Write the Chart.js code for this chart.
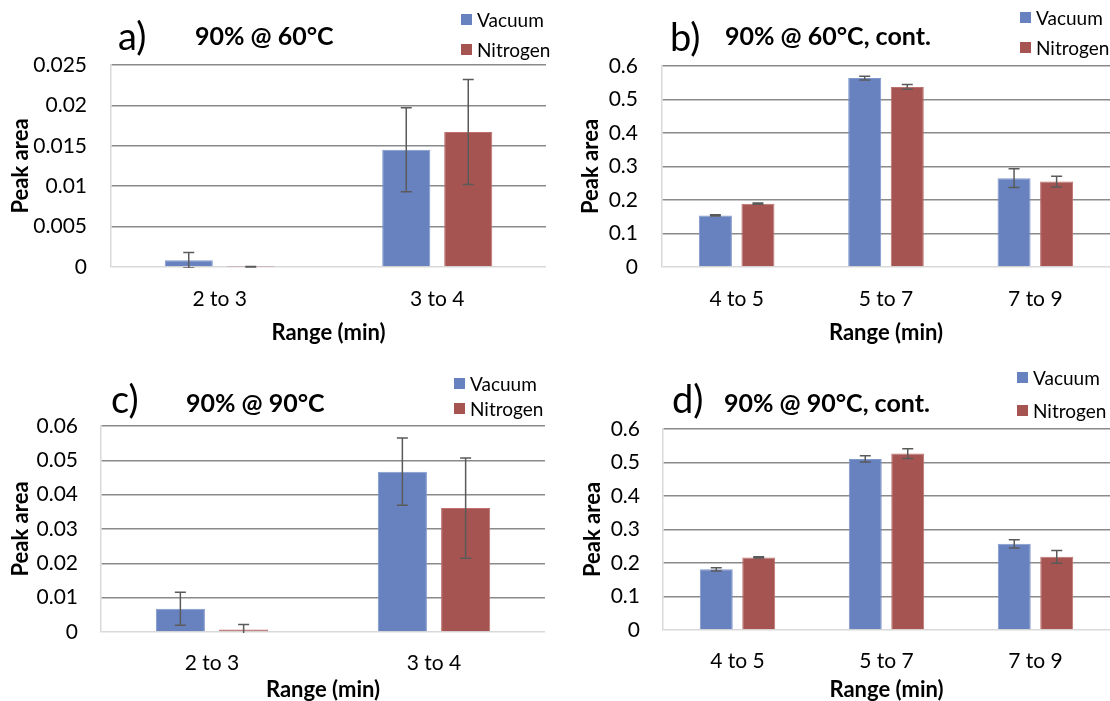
<!DOCTYPE html>
<html>
<head>
<meta charset="utf-8">
<script src="https://cdn.jsdelivr.net/npm/chart.js@4.4.1/dist/chart.umd.min.js"></script>
<style>
  body { margin: 0; background: #fff; width: 1110px; height: 701px; position: relative; overflow: hidden; }
  canvas { position: absolute; }
</style>
</head>
<body>
<canvas id="panelA" width="555" height="350" style="left:0;top:0"></canvas>
<canvas id="panelB" width="555" height="350" style="left:555px;top:0"></canvas>
<canvas id="panelC" width="555" height="351" style="left:0;top:350px"></canvas>
<canvas id="panelD" width="555" height="351" style="left:555px;top:350px"></canvas>
<script>
// categories
const rangesEarly = ['2 to 3', '3 to 4']
const rangesLate = ['4 to 5', '5 to 7', '7 to 9']

// a) 90% @ 60°C
const vacuum60 = [0.00083, 0.0145]
const vacuum60Err = [0.00095, 0.0052]
const nitrogen60 = [0.00004, 0.0167]
const nitrogen60Err = [0.00003, 0.0065]

// b) 90% @ 60°C, cont.
const vacuum60Cont = [0.154, 0.564, 0.265]
const vacuum60ContErr = [0.002, 0.0055, 0.028]
const nitrogen60Cont = [0.189, 0.5375, 0.255]
const nitrogen60ContErr = [0.002, 0.007, 0.016]

// c) 90% @ 90°C
const vacuum90 = [0.0068, 0.0467]
const vacuum90Err = [0.0048, 0.0098]
const nitrogen90 = [0.0007, 0.0361]
const nitrogen90Err = [0.0015, 0.0146]

// d) 90% @ 90°C, cont.
const vacuum90Cont = [0.181, 0.5106, 0.2573]
const vacuum90ContErr = [0.005, 0.0094, 0.0124]
const nitrogen90Cont = [0.2166, 0.5265, 0.2185]
const nitrogen90ContErr = [0.002, 0.0144, 0.0189]

// tick labels
const ticks60 = ['0', '0.005', '0.01', '0.015', '0.02', '0.025']
const ticks90 = ['0', '0.01', '0.02', '0.03', '0.04', '0.05', '0.06']
const ticksCont = ['0', '0.1', '0.2', '0.3', '0.4', '0.5', '0.6']

const FONT = 'Lato, "Open Sans", sans-serif'
const BLUE = '#6782bf'
const RED = '#a65451'

// whiskers from the dataset's errors array, clipped to the plot area
const errorBars = {
  id: 'errorBars',
  afterDatasetsDraw(chart) {
    const { ctx, chartArea, scales: { y } } = chart
    ctx.save()
    ctx.beginPath()
    ctx.rect(chartArea.left, chartArea.top, chartArea.width, chartArea.height + 1)
    ctx.clip()
    ctx.strokeStyle = '#5a5a5a'
    ctx.lineWidth = 1.5
    chart.data.datasets.forEach((ds, di) => {
      chart.getDatasetMeta(di).data.forEach((bar, i) => {
        const v = ds.data[i], e = ds.errors[i]
        const top = y.getPixelForValue(v + e)
        const bot = y.getPixelForValue(v - e)
        ctx.beginPath()
        ctx.moveTo(bar.x, top); ctx.lineTo(bar.x, bot)
        ctx.moveTo(bar.x - 5.5, top); ctx.lineTo(bar.x + 5.5, top)
        ctx.moveTo(bar.x - 5.5, bot); ctx.lineTo(bar.x + 5.5, bot)
        ctx.stroke()
      })
    })
    ctx.restore()
  }
}

// panel letter, bold title and the two-row legend in the top right
const header = {
  id: 'header',
  afterDraw(chart) {
    const h = chart.options.plugins.header
    const ctx = chart.ctx
    ctx.save()
    ctx.fillStyle = '#000'
    ctx.textBaseline = 'alphabetic'
    ctx.font = `38px ${FONT}`
    ctx.fillText(h.letter, h.letterX, h.letterY)
    ctx.font = `bold 25px ${FONT}`
    ctx.fillText(h.title, h.titleX, h.titleY)
    ctx.font = `19px ${FONT}`
    ctx.textBaseline = 'middle'
    chart.data.datasets.forEach((ds, i) => {
      ctx.fillStyle = ds.backgroundColor
      ctx.fillRect(h.legendX, h.legendY[i], 11, 11)
      ctx.fillStyle = '#000'
      ctx.fillText(ds.label, h.legendX + 16, h.legendY[i] + 6.5)
    })
    ctx.restore()
  }
}

function makePanel(id, p) {
  return new Chart(document.getElementById(id), {
    type: 'bar',
    data: {
      labels: p.labels,
      datasets: [
        { label: 'Vacuum', data: p.vacuum, errors: p.vacuumErr, backgroundColor: BLUE, borderColor: '#8198cc', borderWidth: 1 },
        { label: 'Nitrogen', data: p.nitrogen, errors: p.nitrogenErr, backgroundColor: RED, borderColor: '#bd716e', borderWidth: 1 }
      ]
    },
    options: {
      responsive: false,
      animation: false,
      layout: { padding: { left: 0, right: p.right, top: p.top, bottom: 0 } },
      datasets: { bar: { categoryPercentage: 0.57, barPercentage: 0.776 } },
      scales: {
        x: {
          grid: { display: false },
          border: { display: false },
          ticks: { color: '#000', font: { family: FONT, size: 21 }, padding: p.xTickPad },
          title: { display: true, text: 'Range (min)', color: '#000', font: { family: FONT, size: 22, weight: 'bold' }, padding: { top: 0, bottom: p.xTitlePad } },
          afterFit: s => { s.height = p.xHeight }
        },
        y: {
          min: 0,
          max: p.max,
          ticks: { stepSize: p.step, color: '#000', font: { family: FONT, size: 21 }, padding: p.yTickPad, callback: (v, i) => p.ticks[i] },
          grid: { color: c => c.tick && c.tick.value === 0 ? '#d9d9d9' : '#8a8a8a', lineWidth: 1.5, drawTicks: false },
          border: { color: '#d9d9d9', width: 1.5 },
          title: { display: true, text: 'Peak area', color: '#000', font: { family: FONT, size: 22, weight: 'bold' }, padding: { top: p.yTitlePad, bottom: 0 } },
          afterFit: s => { s.width = p.yWidth }
        }
      },
      plugins: { legend: { display: false }, tooltip: { enabled: false }, header: p.header }
    },
    plugins: [errorBars, header]
  })
}

makePanel('panelA', {
  labels: rangesEarly, vacuum: vacuum60, vacuumErr: vacuum60Err, nitrogen: nitrogen60, nitrogenErr: nitrogen60Err,
  max: 0.025, step: 0.005, ticks: ticks60,
  top: 65, right: 9, yWidth: 111, xHeight: 83,
  yTickPad: 24, yTitlePad: 8, xTickPad: 12, xTitlePad: 4,
  header: { letter: 'a)', letterX: 118, letterY: 50, title: '90% @ 60°C', titleX: 195, titleY: 45, legendX: 461, legendY: [14, 44] }
})

makePanel('panelB', {
  labels: rangesLate, vacuum: vacuum60Cont, vacuumErr: vacuum60ContErr, nitrogen: nitrogen60Cont, nitrogenErr: nitrogen60ContErr,
  max: 0.6, step: 0.1, ticks: ticksCont,
  top: 66, right: 0, yWidth: 107, xHeight: 83,
  yTickPad: 24, yTitlePad: 23, xTickPad: 12, xTitlePad: 4,
  header: { letter: 'b)', letterX: 115, letterY: 51, title: '90% @ 60°C, cont.', titleX: 170, titleY: 45, legendX: 465, legendY: [12, 42] }
})

makePanel('panelC', {
  labels: rangesEarly, vacuum: vacuum90, vacuumErr: vacuum90Err, nitrogen: nitrogen90, nitrogenErr: nitrogen90Err,
  max: 0.06, step: 0.01, ticks: ticks90,
  top: 76, right: 10, yWidth: 101, xHeight: 69,
  yTickPad: 23, yTitlePad: 8, xTickPad: 11, xTitlePad: -2,
  header: { letter: 'c)', letterX: 111, letterY: 63, title: '90% @ 90°C', titleX: 186, titleY: 62, legendX: 454, legendY: [28, 53] }
})

makePanel('panelD', {
  labels: rangesLate, vacuum: vacuum90Cont, vacuumErr: vacuum90ContErr, nitrogen: nitrogen90Cont, nitrogenErr: nitrogen90ContErr,
  max: 0.6, step: 0.1, ticks: ticksCont,
  top: 79, right: 0, yWidth: 108, xHeight: 71,
  yTickPad: 23, yTitlePad: 25, xTickPad: 11, xTitlePad: -2,
  header: { letter: 'd)', letterX: 117, letterY: 63, title: '90% @ 90°C, cont.', titleX: 169, titleY: 62, legendX: 462, legendY: [22, 55] }
})
</script>
</body>
</html>
